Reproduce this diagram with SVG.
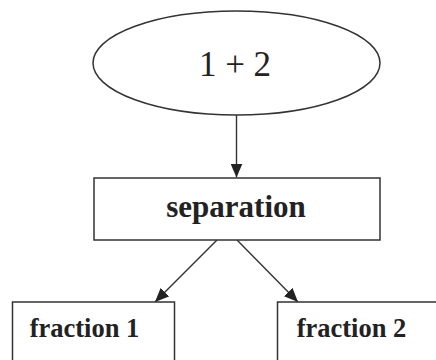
<svg xmlns="http://www.w3.org/2000/svg" width="436" height="360" viewBox="0 0 436 360">
<style>
.box{fill:#fff;stroke:#333;stroke-width:1.5}
.lbl{font-family:"Liberation Serif",serif;fill:#222;text-anchor:middle}
.b{font-weight:bold}
.edge{stroke:#333;stroke-width:1.4;fill:none;marker-end:url(#ah)}
</style>
<defs>
<marker id="ah" viewBox="0 0 14 12" refX="14" refY="6" markerWidth="14" markerHeight="12" markerUnits="userSpaceOnUse" orient="auto">
<path d="M0,0 L14,6 L0,12 Z" fill="#222"/>
</marker>
</defs>
<rect width="436" height="360" fill="#fff"/>
<g id="connectors">
<line class="edge" x1="236.5" y1="115" x2="236.5" y2="177.5"/>
<line class="edge" x1="217" y1="240" x2="155" y2="302"/>
<line class="edge" x1="237" y1="240" x2="298" y2="302"/>
</g>
<g id="node-mix">
<ellipse class="box" cx="236.5" cy="63" rx="143.5" ry="52"/>
<text class="lbl" x="235" y="76" font-size="35">1 + 2</text>
</g>
<g id="node-separation">
<rect class="box" x="94" y="178" width="286" height="62"/>
<text class="lbl b" x="236" y="217" font-size="31">separation</text>
</g>
<g id="node-fraction1">
<rect class="box" x="12.5" y="302" width="162" height="70"/>
<text class="lbl b" x="84.5" y="337" font-size="26.5">fraction 1</text>
</g>
<g id="node-fraction2">
<rect class="box" x="277.5" y="302" width="170" height="70"/>
<text class="lbl b" x="351.5" y="337" font-size="26.5">fraction 2</text>
</g>
</svg>
